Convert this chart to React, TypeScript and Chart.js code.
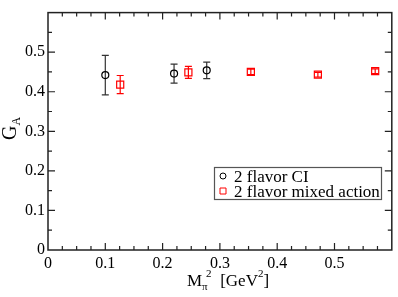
import React, { useEffect, useRef } from "react";
import { Chart, registerables } from "chart.js";
Chart.register(...registerables);

// ---- data ----
const ciMass2 = [0.1, 0.22, 0.277];
const ciGA = [0.442, 0.446, 0.454];
const ciErr = [0.05, 0.024, 0.021];

const maMass2 = [0.126, 0.245, 0.354, 0.471, 0.571];
const maGA = [0.418, 0.449, 0.45, 0.443, 0.452];
const maErr = [0.023, 0.015, 0.007, 0.006, 0.006];

const seriesLabels = ["2 flavor CI", "2 flavor mixed action"];
const axisMin = 0;
const axisMax = 0.6;
const majorStep = 0.1;
const xMinorStep = 0.025;
const yMinorStep = 0.05;

const FONT = "Liberation Serif, Times New Roman, serif";
const BLACK = "#000000";
const RED = "#ff0000";

Chart.defaults.font.family = FONT;

const fmt = (v: number) => {
  if (Math.abs(v) < 1e-9) return "0";
  if (v > axisMax - 1e-9) return "";
  return v.toFixed(1);
};

const errorBarsPlugin = {
  id: "errorBars",
  beforeDatasetsDraw(chart: any) {
    const ctx = chart.ctx;
    const yScale = chart.scales.y;
    chart.data.datasets.forEach((ds: any, i: number) => {
      const meta = chart.getDatasetMeta(i);
      ctx.save();
      ctx.strokeStyle = ds.errorColor;
      ctx.lineWidth = 1.2;
      meta.data.forEach((el: any, j: number) => {
        const v = ds.data[j].y;
        const e = ds.errors[j];
        const yt = yScale.getPixelForValue(v + e);
        const yb = yScale.getPixelForValue(v - e);
        const x = el.x;
        const cap = 3.5;
        ctx.beginPath();
        ctx.moveTo(x, yt);
        ctx.lineTo(x, yb);
        ctx.moveTo(x - cap, yt);
        ctx.lineTo(x + cap, yt);
        ctx.moveTo(x - cap, yb);
        ctx.lineTo(x + cap, yb);
        ctx.stroke();
      });
      ctx.restore();
    });
  },
};

const framePlugin = {
  id: "frame",
  afterDraw(chart: any) {
    const ctx = chart.ctx;
    const { left, right, top, bottom } = chart.chartArea;
    const xs = chart.scales.x;
    const ys = chart.scales.y;
    ctx.save();
    ctx.strokeStyle = "#222";
    ctx.lineWidth = 1.5;
    ctx.strokeRect(left, top, right - left, bottom - top);
    ctx.lineWidth = 1.2;
    ctx.beginPath();
    const nx = Math.round((axisMax - axisMin) / xMinorStep);
    for (let i = 1; i < nx; i++) {
      const v = axisMin + i * xMinorStep;
      const len = i % 4 === 0 ? 7 : 4;
      const px = xs.getPixelForValue(v);
      ctx.moveTo(px, bottom);
      ctx.lineTo(px, bottom - len);
      ctx.moveTo(px, top);
      ctx.lineTo(px, top + len);
    }
    const ny = Math.round((axisMax - axisMin) / yMinorStep);
    for (let i = 1; i < ny; i++) {
      const v = axisMin + i * yMinorStep;
      const len = i % 2 === 0 ? 7 : 4;
      const py = ys.getPixelForValue(v);
      ctx.moveTo(left, py);
      ctx.lineTo(left + len, py);
      ctx.moveTo(right, py);
      ctx.lineTo(right - len, py);
    }
    ctx.stroke();

    // axis titles
    ctx.fillStyle = BLACK;
    ctx.textBaseline = "alphabetic";
    ctx.textAlign = "left";
    // x title: M_pi^2 [GeV^2]
    let x = 187;
    const by = 286;
    ctx.font = `17px ${FONT}`;
    ctx.fillText("M", x, by);
    x += ctx.measureText("M").width;
    ctx.font = `11px ${FONT}`;
    ctx.fillText("\u03c0", x, by + 4);
    ctx.fillText("2", x + 4, by - 9);
    x += ctx.measureText("\u03c0").width + 4 + ctx.measureText("2").width + 3;
    ctx.font = `17px ${FONT}`;
    const part = "[GeV";
    ctx.fillText(part, x, by);
    x += ctx.measureText(part).width;
    ctx.font = `11px ${FONT}`;
    ctx.fillText("2", x, by - 9);
    x += ctx.measureText("2").width;
    ctx.font = `17px ${FONT}`;
    ctx.fillText("]", x, by);

    // y title: G_A rotated
    ctx.save();
    ctx.translate(16, 140);
    ctx.rotate(-Math.PI / 2);
    ctx.font = `20px ${FONT}`;
    ctx.fillText("G", 0, 0);
    const gw = ctx.measureText("G").width;
    ctx.font = `12px ${FONT}`;
    ctx.fillText("A", gw, 4);
    ctx.restore();

    // legend
    const bx = 214.5, byy = 167.5, bw = 167, bh = 32;
    ctx.strokeStyle = "#555";
    ctx.lineWidth = 1.2;
    ctx.strokeRect(bx, byy, bw, bh);
    ctx.font = `17px ${FONT}`;
    chart.data.datasets.forEach((ds: any, i: number) => {
      const cy = 176 + i * 15;
      ctx.strokeStyle = ds.borderColor;
      ctx.lineWidth = 1;
      ctx.beginPath();
      if (ds.pointStyle === "circle") {
        ctx.arc(223, cy, 3, 0, Math.PI * 2);
      } else {
        ctx.rect(220, cy - 3, 6, 6);
      }
      ctx.stroke();
      ctx.fillStyle = BLACK;
      ctx.fillText(ds.label, 234, cy + 5.5);
    });
    ctx.restore();
  },
};

export default function App() {
  const ref = useRef<HTMLCanvasElement>(null);
  useEffect(() => {
    if (!ref.current) return;
    const chart = new Chart(ref.current, {
      type: "scatter",
      data: {
        datasets: [
          {
            label: seriesLabels[0],
            data: ciMass2.map((m, i) => ({ x: m, y: ciGA[i] })),
            errors: ciErr,
            errorColor: "#333",
            borderColor: BLACK,
            backgroundColor: "rgba(0,0,0,0)",
            pointStyle: "circle",
            pointRadius: 3.5,
            borderWidth: 1.2,
          } as any,
          {
            label: seriesLabels[1],
            data: maMass2.map((m, i) => ({ x: m, y: maGA[i] })),
            errors: maErr,
            errorColor: RED,
            borderColor: RED,
            backgroundColor: "rgba(0,0,0,0)",
            pointStyle: "rect",
            pointRadius: 5,
            borderWidth: 1.2,
          } as any,
        ],
      },
      options: {
        responsive: false,
        animation: false,
        devicePixelRatio: 1,
        layout: { padding: { top: 1, right: 1, left: 0, bottom: 0 } },
        plugins: { legend: { display: false }, tooltip: { enabled: false } },
        scales: {
          x: {
            type: "linear",
            min: axisMin,
            max: axisMax,
            grid: { display: false, drawTicks: false },
            border: { display: false },
            ticks: {
              stepSize: majorStep,
              autoSkip: false,
              maxRotation: 0,
              padding: 4,
              color: BLACK,
              font: { family: FONT, size: 16 },
              callback: (v: any) => fmt(Number(v)),
            },
            afterFit: (s: any) => {
              s.height = 47;
            },
          },
          y: {
            type: "linear",
            min: axisMin,
            max: axisMax,
            grid: { display: false, drawTicks: false },
            border: { display: false },
            ticks: {
              stepSize: majorStep,
              autoSkip: false,
              padding: 3,
              color: BLACK,
              font: { family: FONT, size: 16 },
              callback: (v: any) => fmt(Number(v)),
            },
            afterFit: (s: any) => {
              s.width = 48;
            },
          },
        },
      },
      plugins: [errorBarsPlugin, framePlugin],
    });
    return () => chart.destroy();
  }, []);
  return (
    <div style={{ position: "absolute", left: 0, top: 0, width: 398, height: 297, background: "#fff" }}>
      <canvas ref={ref} width={398} height={297} />
    </div>
  );
}
